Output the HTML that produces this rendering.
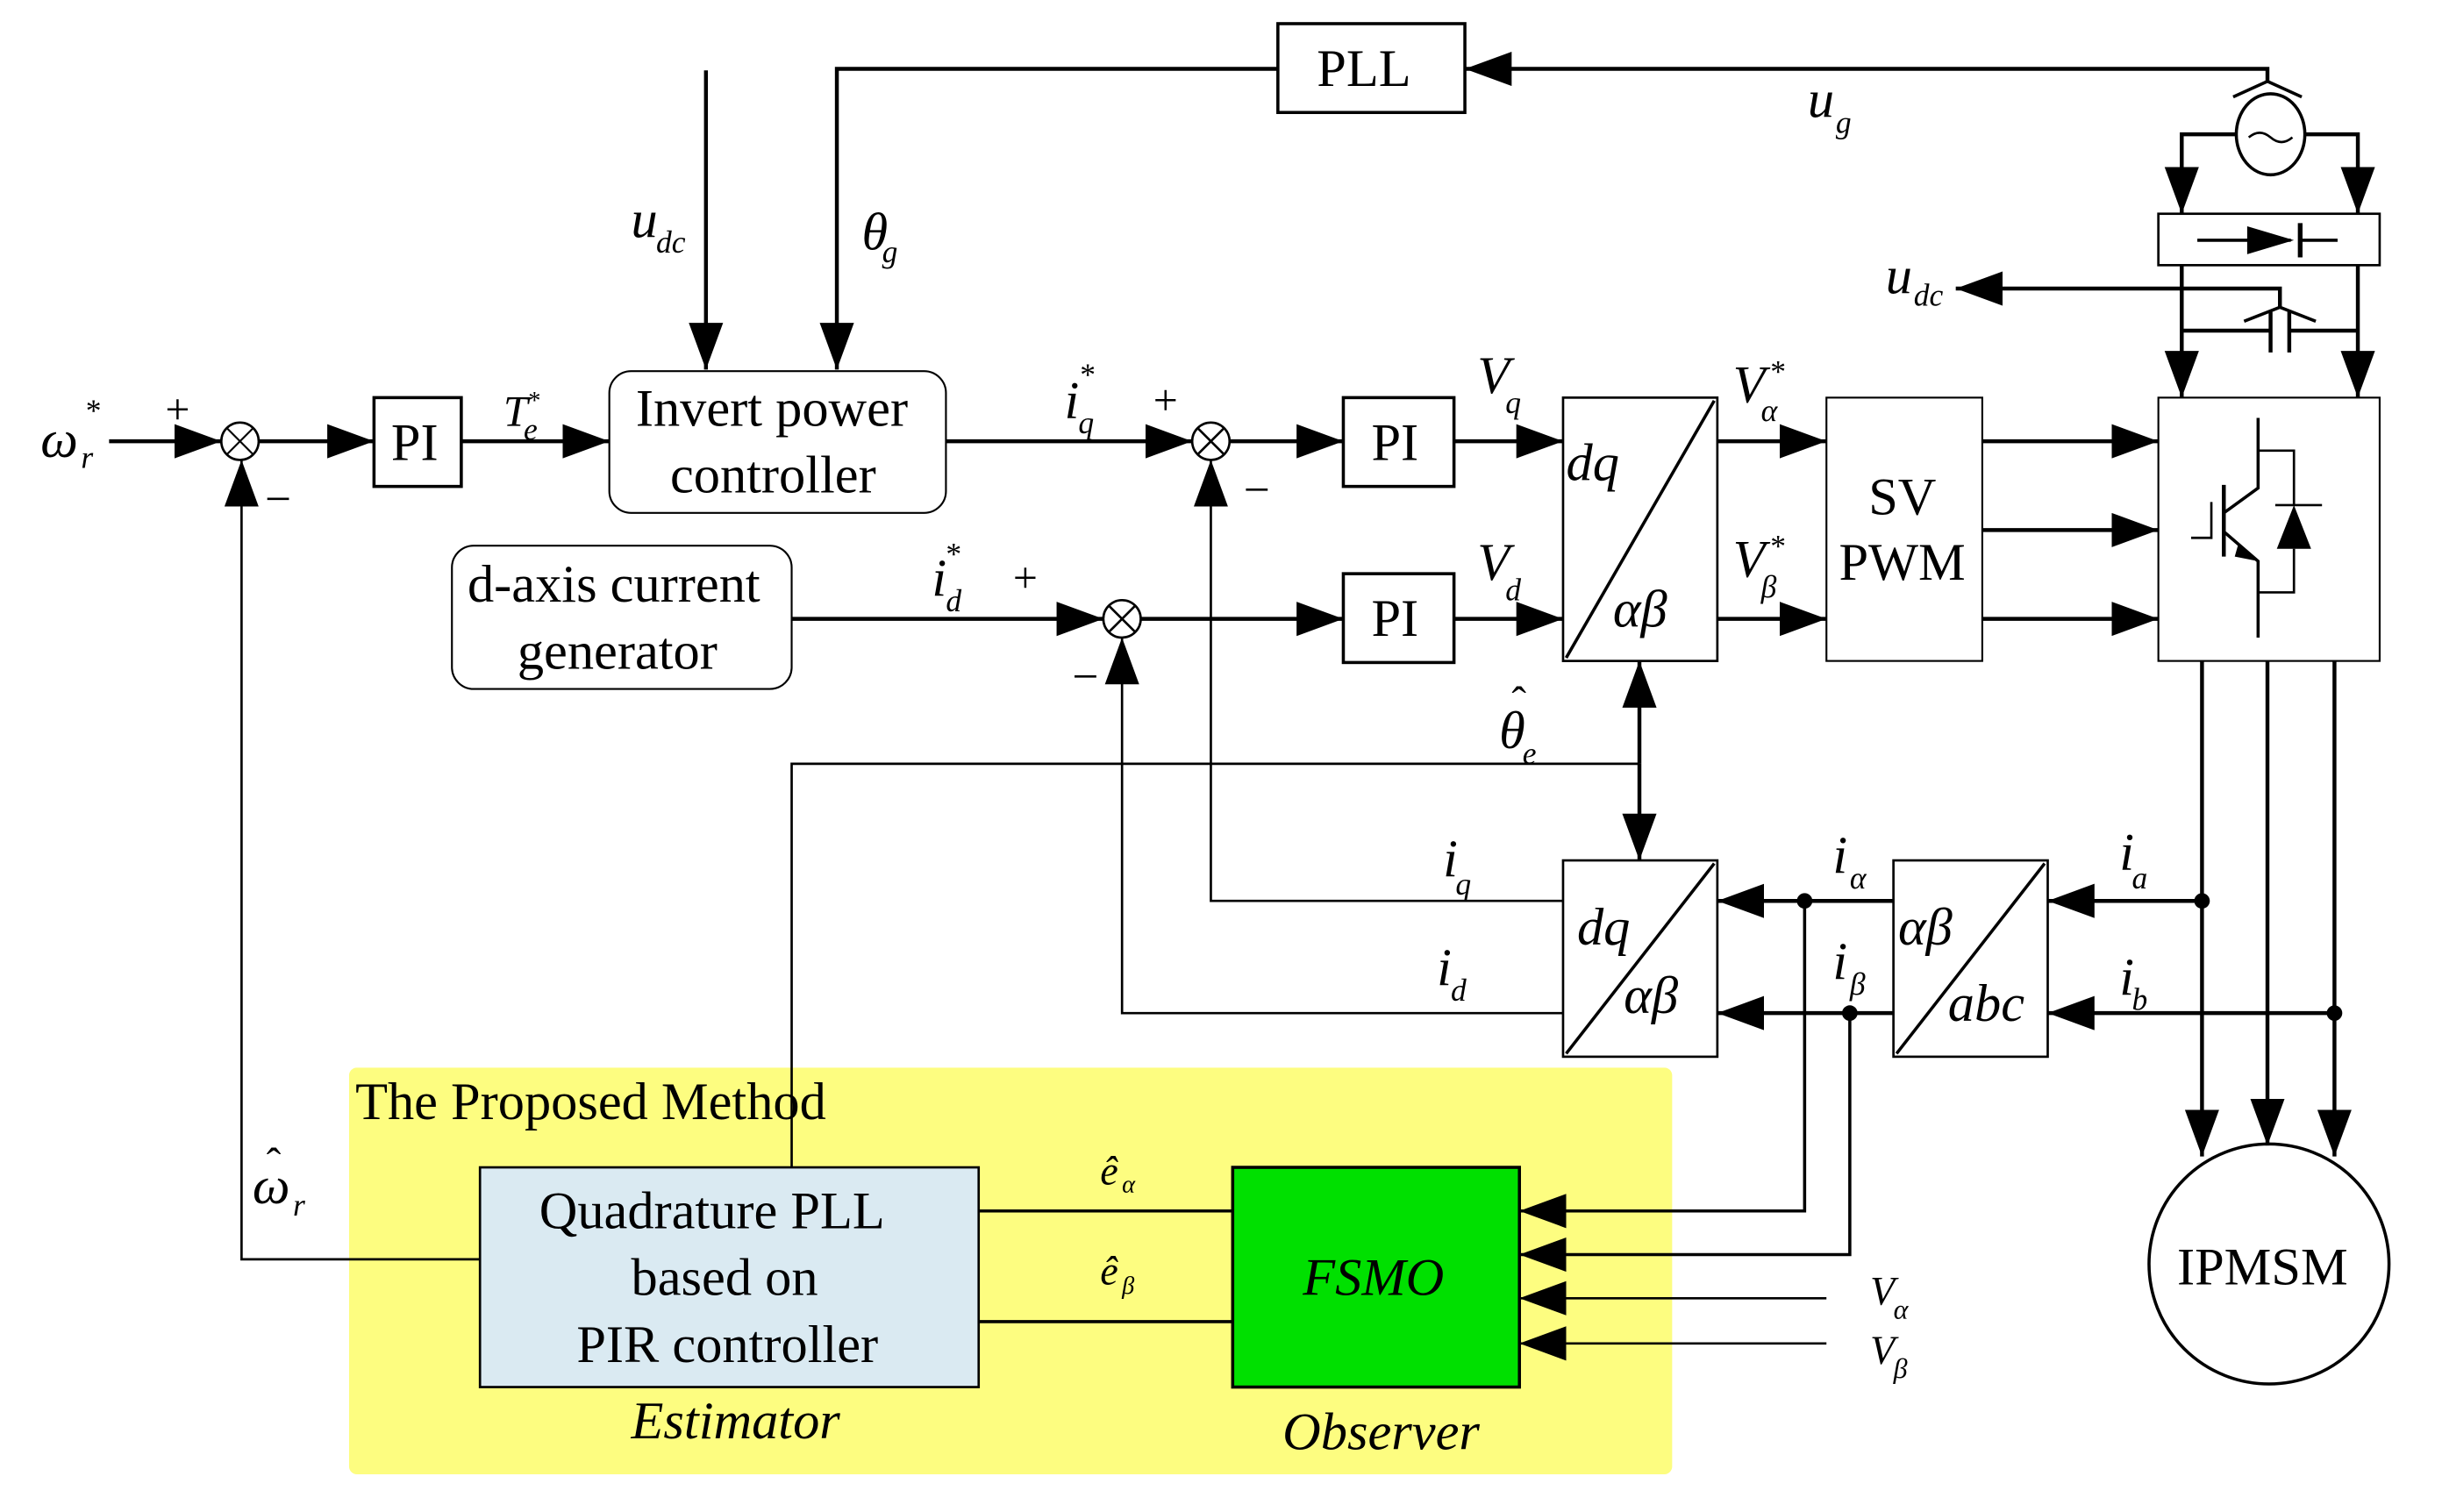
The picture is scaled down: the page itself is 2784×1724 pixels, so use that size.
<!DOCTYPE html>
<html><head><meta charset="utf-8"><style>
html,body{margin:0;padding:0;background:#fff;}
svg{display:block;}
text{font-family:"Liberation Serif",serif;fill:#000;}
.i{font-style:italic;}
</style></head><body>
<svg width="2784" height="1724" viewBox="0 0 1567 970" xmlns="http://www.w3.org/2000/svg">
<defs>
<marker id="a" markerUnits="userSpaceOnUse" markerWidth="32" markerHeight="24" refX="30" refY="11" orient="auto">
<path d="M0,0 L30,11 L0,22 z" fill="#000"/></marker>
</defs>
<rect x="224" y="685" width="849" height="261" rx="5" fill="#fdfd80"/>
<g stroke="#000" stroke-width="2.5" fill="none">
<rect x="820" y="15" width="120" height="57" stroke-width="2"/>
<polyline points="820,44 537,44 537,237" marker-end="url(#a)"/>
<polyline points="1455,52 1455,44 940,44" marker-end="url(#a)"/>
<line x1="453" y1="45" x2="453" y2="237" marker-end="url(#a)"/>
<polyline points="1433,62 1455,52 1477,62" stroke-width="2"/>
<ellipse cx="1457" cy="86" rx="22" ry="26" stroke-width="2"/>
<path d="M1443,88 q7,-6 14,0 t14,0" stroke-width="1.5"/>
<polyline points="1435,86 1400,86 1400,137" marker-end="url(#a)"/>
<polyline points="1479,86 1513,86 1513,137" marker-end="url(#a)"/>
<rect x="1385" y="137" width="142" height="33" stroke-width="1.5"/>
<line x1="1410" y1="154" x2="1470" y2="154" stroke-width="2"/>
<line x1="1477" y1="154" x2="1500" y2="154" stroke-width="2"/>
<line x1="1476" y1="143" x2="1476" y2="165" stroke-width="3"/>
<line x1="1400" y1="170" x2="1400" y2="255" marker-end="url(#a)"/>
<line x1="1513" y1="170" x2="1513" y2="255" marker-end="url(#a)"/>
<polyline points="1400,212 1457,212"/><polyline points="1469,212 1513,212"/>
<line x1="1457" y1="200" x2="1457" y2="226"/><line x1="1469" y1="200" x2="1469" y2="226"/>
<polyline points="1440,206 1463,197 1486,206" stroke-width="2"/>
<polyline points="1463,197 1463,185 1255,185" marker-end="url(#a)"/>
<line x1="70" y1="283" x2="142" y2="283" marker-end="url(#a)"/>
<circle cx="154" cy="283" r="12" stroke-width="1.5"/>
<path d="M146,275 L162,291 M162,275 L146,291" stroke-width="1.2"/>
<line x1="166" y1="283" x2="240" y2="283" marker-end="url(#a)"/>
<rect x="240" y="255" width="56" height="57" stroke-width="2"/>
<line x1="296" y1="283" x2="391" y2="283" marker-end="url(#a)"/>
<rect x="391" y="238" width="216" height="91" rx="14" stroke-width="1.2"/>
<line x1="607" y1="283" x2="765" y2="283" marker-end="url(#a)"/>
<circle cx="777" cy="283" r="12" stroke-width="1.5"/>
<path d="M769,275 L785,291 M785,275 L769,291" stroke-width="1.5"/>
<line x1="789" y1="283" x2="862" y2="283" marker-end="url(#a)"/>
<rect x="862" y="255" width="71" height="57" stroke-width="2"/>
<line x1="933" y1="283" x2="1003" y2="283" marker-end="url(#a)"/>
<rect x="1003" y="255" width="99" height="169" stroke-width="1.5"/>
<line x1="1005" y1="422" x2="1100" y2="257" stroke-width="2"/>
<line x1="1102" y1="283" x2="1172" y2="283" marker-end="url(#a)"/>
<line x1="1102" y1="397" x2="1172" y2="397" marker-end="url(#a)"/>
<rect x="1172" y="255" width="100" height="169" stroke-width="1.2"/>
<line x1="1272" y1="283" x2="1385" y2="283" marker-end="url(#a)"/>
<line x1="1272" y1="340" x2="1385" y2="340" marker-end="url(#a)"/>
<line x1="1272" y1="397" x2="1385" y2="397" marker-end="url(#a)"/>
<rect x="1385" y="255" width="142" height="169" stroke-width="1.2"/>
<polyline points="1449,268 1449,313 1427,329" stroke-width="2"/>
<polyline points="1427,341 1449,360 1449,409" stroke-width="2"/>
<line x1="1427" y1="311" x2="1427" y2="357" stroke-width="2.5"/>
<polyline points="1406,345 1419,345 1419,322" stroke-width="1.5"/>
<polyline points="1449,289 1472,289 1472,324" stroke-width="1.5"/>
<polyline points="1472,352 1472,380 1449,380" stroke-width="1.5"/>
<line x1="1460" y1="324" x2="1490" y2="324" stroke-width="1.5"/>
<rect x="290" y="350" width="218" height="92" rx="14" stroke-width="1.2"/>
<line x1="508" y1="397" x2="708" y2="397" marker-end="url(#a)"/>
<circle cx="720" cy="397" r="12" stroke-width="1.5"/>
<path d="M712,389 L728,405 M728,389 L712,405" stroke-width="1.5"/>
<line x1="732" y1="397" x2="862" y2="397" marker-end="url(#a)"/>
<rect x="862" y="368" width="71" height="57" stroke-width="2"/>
<line x1="933" y1="397" x2="1003" y2="397" marker-end="url(#a)"/>
<line x1="1052" y1="490" x2="1052" y2="424" marker-end="url(#a)"/>
<line x1="1052" y1="490" x2="1052" y2="552" marker-end="url(#a)"/>
<polyline points="1052,490 508,490 508,749" stroke-width="1.5"/>
<rect x="1003" y="552" width="99" height="126" stroke-width="1.5"/>
<line x1="1005" y1="676" x2="1100" y2="554" stroke-width="2"/>
<rect x="1215" y="552" width="99" height="126" stroke-width="1.5"/>
<line x1="1217" y1="676" x2="1312" y2="554" stroke-width="2"/>
<line x1="1413" y1="578" x2="1314" y2="578" marker-end="url(#a)"/>
<line x1="1498" y1="650" x2="1314" y2="650" marker-end="url(#a)"/>
<line x1="1215" y1="578" x2="1102" y2="578" marker-end="url(#a)"/>
<line x1="1215" y1="650" x2="1102" y2="650" marker-end="url(#a)"/>
<polyline points="1003,578 777,578 777,295" stroke-width="1.5" marker-end="url(#a)"/>
<polyline points="1003,650 720,650 720,409" stroke-width="1.5" marker-end="url(#a)"/>
<polyline points="308,808 155,808 155,295" stroke-width="1.5" marker-end="url(#a)"/>
<line x1="1413" y1="424" x2="1413" y2="742" marker-end="url(#a)"/>
<line x1="1455" y1="424" x2="1455" y2="735" marker-end="url(#a)"/>
<line x1="1498" y1="424" x2="1498" y2="742" marker-end="url(#a)"/>
<ellipse cx="1456" cy="811" rx="77" ry="77" stroke-width="2"/>
<rect x="308" y="749" width="320" height="141" fill="#daeaf2" stroke-width="1.5"/>
<rect x="791" y="749" width="184" height="141" fill="#00e000" stroke-width="2"/>
<line x1="628" y1="777" x2="791" y2="777" stroke-width="2"/>
<line x1="628" y1="848" x2="791" y2="848" stroke-width="2"/>
<polyline points="1158,578 1158,777 975,777" stroke-width="2" marker-end="url(#a)"/>
<polyline points="1187,650 1187,805 975,805" stroke-width="2" marker-end="url(#a)"/>
<line x1="1172" y1="833" x2="975" y2="833" stroke-width="1.5" marker-end="url(#a)"/>
<line x1="1172" y1="862" x2="975" y2="862" stroke-width="1.5" marker-end="url(#a)"/>
</g>
<path d="M1442,145 L1472,154 L1442,163 z" fill="#000"/>
<path d="M1461,352 L1472,324 L1483,352 z" fill="#000"/>
<path d="M1436,350 L1449,360 L1434,357 z" fill="#000"/>
<g fill="#000"><circle cx="1413" cy="578" r="5"/><circle cx="1498" cy="650" r="5"/><circle cx="1158" cy="578" r="5"/><circle cx="1187" cy="650" r="5"/></g>
<g font-size="34">
<text x="845" y="55">PLL</text>
<text x="251" y="295">PI</text>
<text x="880" y="295">PI</text>
<text x="880" y="408">PI</text>
<text x="408" y="273">Invert power</text>
<text x="430" y="316">controller</text>
<text x="300" y="386">d-axis current</text>
<text x="332" y="429">generator</text>
<text x="1199" y="330">SV</text>
<text x="1180" y="372">PWM</text>
<text x="1397" y="824">IPMSM</text>
<text x="228" y="718">The Proposed Method</text>
<text x="346" y="788">Quadrature  PLL</text>
<text x="405" y="831">based on</text>
<text x="370" y="874">PIR controller</text>
<text class="i" x="836" y="831">FSMO</text>
<text class="i" x="405" y="923">Estimator</text>
<text class="i" x="823" y="930">Observer</text>
<text class="i" x="1005" y="308">dq</text>
<text class="i" x="1035" y="402">αβ</text>
<text class="i" x="1012" y="606">dq</text>
<text class="i" x="1042" y="650">αβ</text>
<text class="i" x="1218" y="606">αβ</text>
<text class="i" x="1250" y="655">abc</text>
<text class="i" x="26" y="293">ω</text>
<text class="i" x="405" y="152">u</text>
<text class="i" x="553" y="160">θ</text>
<text class="i" x="1160" y="75">u</text>
<text class="i" x="1210" y="188">u</text>
<text class="i" x="323" y="273" font-size="28">T</text>
<text class="i" x="683" y="268">i</text>
<text class="i" x="598" y="382">i</text>
<text class="i" x="948" y="252">V</text>
<text class="i" x="948" y="372">V</text>
<text class="i" x="1112" y="258">V</text>
<text class="i" x="1112" y="370">V</text>
<text class="i" x="962" y="480">θ</text><text x="970" y="460" font-size="28">ˆ</text>
<text class="i" x="926" y="562">i</text>
<text class="i" x="922" y="632">i</text>
<text class="i" x="1176" y="560">i</text>
<text class="i" x="1176" y="628">i</text>
<text class="i" x="1360" y="558">i</text>
<text class="i" x="1360" y="638">i</text>
<text class="i" x="162" y="772">ω</text><text x="171" y="756" font-size="28">ˆ</text>
<text x="106" y="272" font-size="28">+</text>
<text x="740" y="266" font-size="28">+</text>
<text x="650" y="380" font-size="28">+</text>
<text x="170" y="330" font-size="30">−</text>
<text x="798" y="324" font-size="30">−</text>
<text x="688" y="444" font-size="30">−</text>
</g>
<g font-size="26">
<text class="i" x="706" y="760">ê</text>
<text class="i" x="706" y="824">ê</text>
<text class="i" x="1200" y="837">V</text>
<text class="i" x="1200" y="875">V</text>
</g>
<g font-size="20">
<text class="i" x="52" y="300">r</text><text x="55" y="270">*</text>
<text class="i" x="421" y="162">dc</text>
<text class="i" x="566" y="168">g</text>
<text class="i" x="1178" y="85">g</text>
<text class="i" x="1228" y="196">dc</text>
<text class="i" x="336" y="282">e</text><text x="339" y="262" font-size="16">*</text>
<text class="i" x="692" y="278">q</text><text x="693" y="247">*</text>
<text class="i" x="607" y="392">d</text><text x="607" y="362">*</text>
<text class="i" x="966" y="265">q</text>
<text class="i" x="966" y="385">d</text>
<text class="i" x="1130" y="270">α</text><text x="1136" y="245">*</text>
<text class="i" x="1130" y="383">β</text><text x="1136" y="357">*</text>
<text class="i" x="977" y="490">e</text>
<text class="i" x="934" y="574">q</text>
<text class="i" x="931" y="642">d</text>
<text class="i" x="1187" y="570">α</text>
<text class="i" x="1187" y="638">β</text>
<text class="i" x="1368" y="570">a</text>
<text class="i" x="1368" y="648">b</text>
<text class="i" x="188" y="780">r</text>
<text class="i" x="720" y="765" font-size="16">α</text>
<text class="i" x="720" y="830" font-size="16">β</text>
<text class="i" x="1215" y="846" font-size="18">α</text>
<text class="i" x="1215" y="884" font-size="18">β</text>
</g>
</svg>
</body></html>
